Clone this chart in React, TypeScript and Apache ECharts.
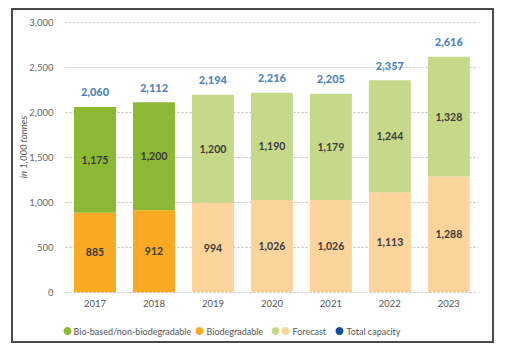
import React, { useEffect, useRef } from "react";
import * as echarts from "echarts";

const years = ["2017", "2018", "2019", "2020", "2021", "2022", "2023"];
const biodegradable = [885, 912, "-", "-", "-", "-", "-"];
const biodegradableForecast = ["-", "-", 994, 1026, 1026, 1113, 1288];
const bioBased = [1175, 1200, "-", "-", "-", "-", "-"];
const bioBasedForecast = ["-", "-", 1200, 1190, 1179, 1244, 1328];
const totals = [2060, 2112, 2194, 2216, 2205, 2357, 2616];
const yTicks = [0, 500, 1000, 1500, 2000, 2500, 3000];

const FONT = "Lato";
const C_GREEN = "#8db833";
const C_ORANGE = "#f9aa22";
const C_GREEN_F = "#c6d98b";
const C_ORANGE_F = "#fdd49b";
const C_BLUE = "#1a5fae";
const C_BLUE_DOT = "#0d4f9c";

export default function App() {
  const ref = useRef<HTMLDivElement>(null);
  useEffect(() => {
    const chart = echarts.init(ref.current!, null, { renderer: "svg" });
    const segLabel = {
      show: true,
      position: "inside",
      color: "#3a3a3a",
      fontFamily: FONT,
      fontWeight: "bold",
      fontSize: 10.5,
      formatter: (p: any) => p.value.toLocaleString("en-US"),
    };
    const barBase = { type: "bar", stack: "total", barWidth: 42, label: segLabel };
    const legendY = 331;
    const legendText = (x: number, text: string) => ({
      type: "text",
      x,
      y: legendY,
      style: { text, fill: "#555", font: `9px ${FONT}`, verticalAlign: "middle" },
    });
    const dot = (x: number, color: string) => ({
      type: "circle",
      shape: { cx: x, cy: legendY, r: 4 },
      style: { fill: color },
    });
    chart.setOption({
      animation: false,
      grid: { left: 65.5, right: 31.7, top: 22.3, bottom: 59.7 },
      xAxis: {
        type: "category",
        data: years,
        axisLine: { show: false },
        axisTick: { show: false },
        axisLabel: { color: "#555", fontFamily: FONT, fontSize: 9.5, margin: 6 },
      },
      yAxis: {
        type: "value",
        min: yTicks[0],
        max: yTicks[yTicks.length - 1],
        interval: 500,
        axisLine: { show: false },
        axisTick: { show: false },
        axisLabel: {
          color: "#666",
          fontFamily: FONT,
          fontSize: 9.5,
          margin: 12,
          formatter: (v: number) => v.toLocaleString("en-US"),
        },
        splitLine: { lineStyle: { color: "#bdbdbd", type: [2, 2], width: 1 } },
      },
      series: [
        { ...barBase, name: "Biodegradable", data: biodegradable, itemStyle: { color: C_ORANGE } },
        { ...barBase, name: "Biodegradable forecast", data: biodegradableForecast, itemStyle: { color: C_ORANGE_F } },
        { ...barBase, name: "Bio-based/non-biodegradable", data: bioBased, itemStyle: { color: C_GREEN } },
        { ...barBase, name: "Bio-based forecast", data: bioBasedForecast, itemStyle: { color: C_GREEN_F } },
        {
          type: "scatter",
          name: "Total capacity",
          data: totals,
          symbolSize: 1,
          itemStyle: { color: "rgba(0,0,0,0)" },
          label: {
            show: true,
            position: "top",
            distance: 9,
            color: C_BLUE,
            fontFamily: FONT,
            fontWeight: 900,
            fontSize: 11,
            formatter: (p: any) => p.value.toLocaleString("en-US"),
          },
        },
      ],
      graphic: [
        {
          type: "rect",
          shape: { x: 12, y: 9, width: 481, height: 333 },
          style: { fill: "none", stroke: "#4a4a4a", lineWidth: 2 },
        },
        {
          type: "text",
          x: 23,
          y: 147,
          rotation: Math.PI / 2,
          style: {
            text: "in 1,000 tonnes",
            fill: "#555",
            font: `italic 9.5px ${FONT}`,
            align: "center",
            verticalAlign: "middle",
          },
        },
        dot(67.5, C_GREEN),
        legendText(73.5, "Bio-based/non-biodegradable"),
        dot(199.5, C_ORANGE),
        legendText(206.5, "Biodegradable"),
        dot(275.5, C_GREEN_F),
        dot(285.5, C_ORANGE_F),
        legendText(292.5, "Forecast"),
        dot(339.5, C_BLUE_DOT),
        legendText(346.5, "Total capacity"),
      ],
    });
    return () => chart.dispose();
  }, []);
  return <div ref={ref} style={{ width: 510, height: 352, position: "absolute", left: 0, top: 0 }} />;
}
